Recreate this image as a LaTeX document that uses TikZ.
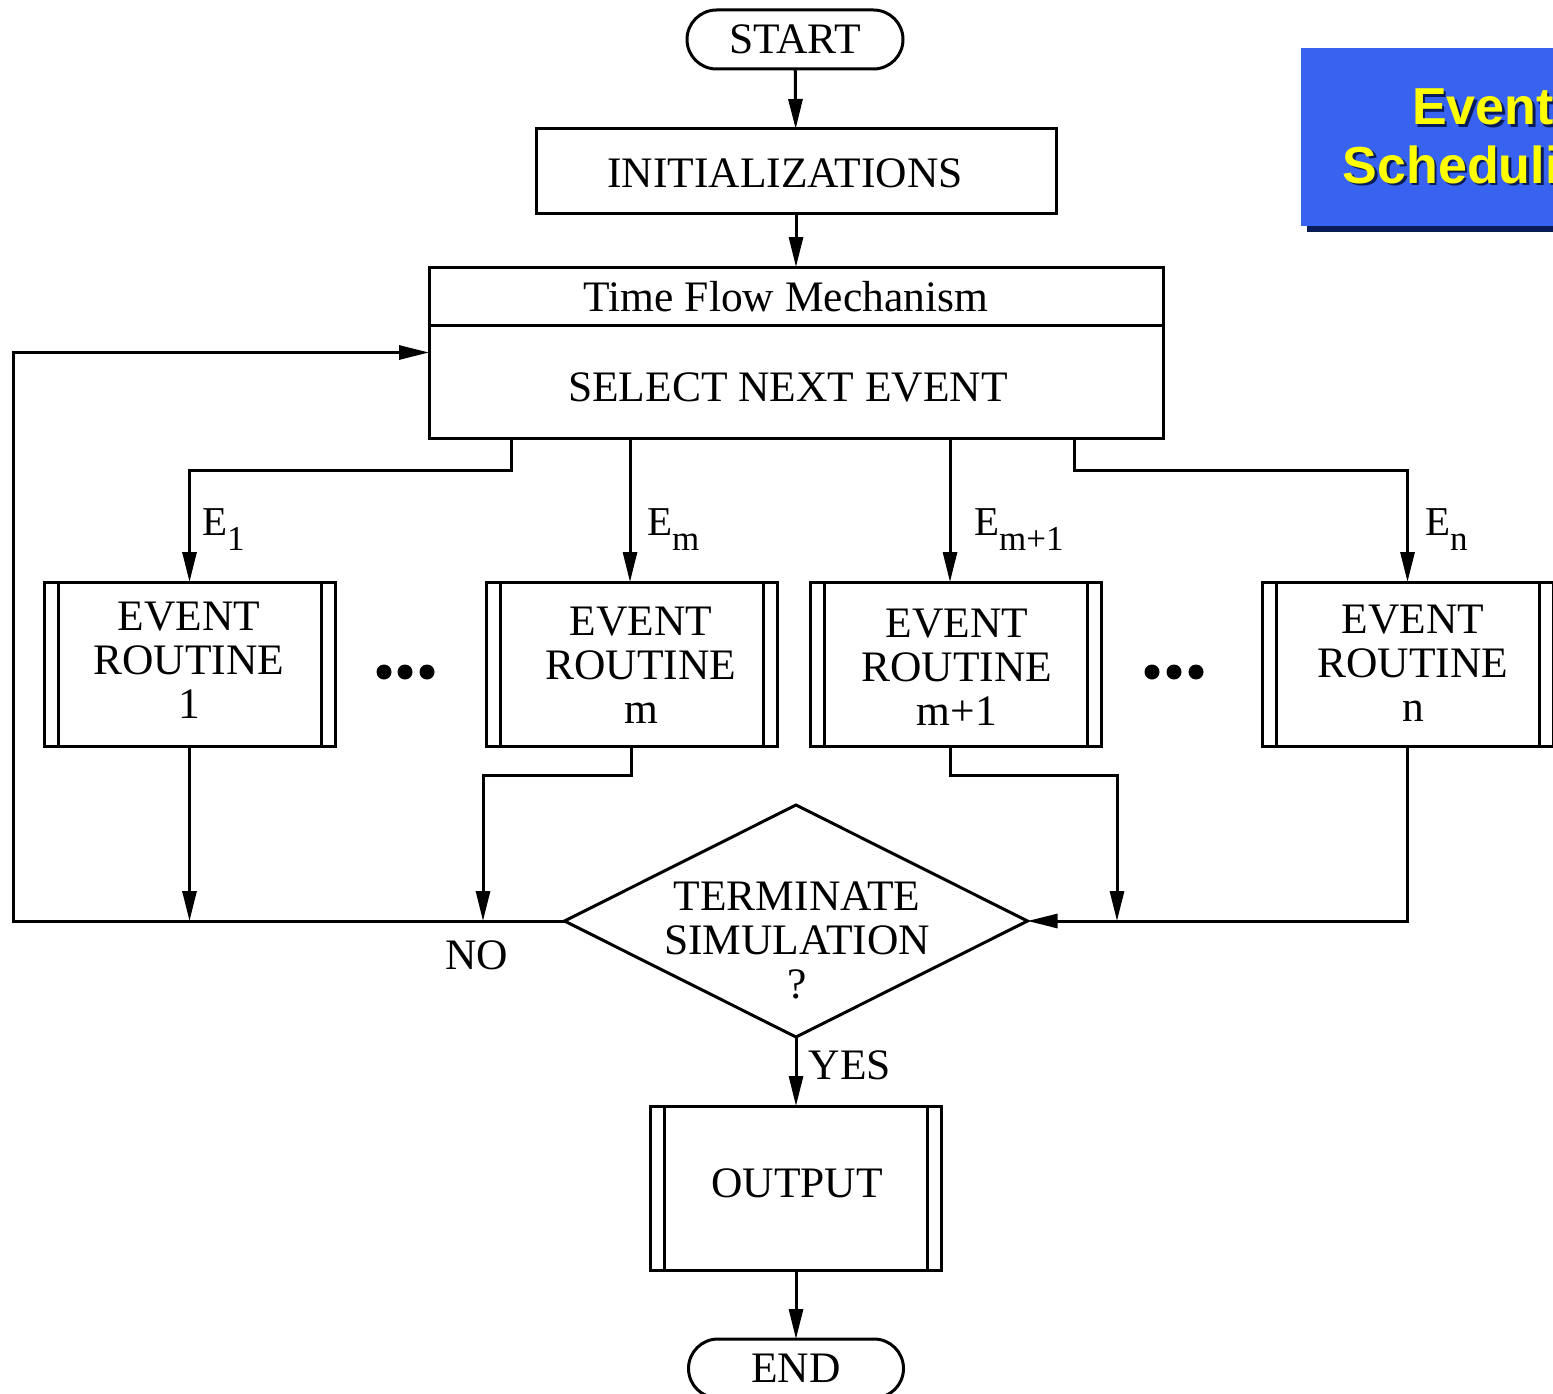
\documentclass[tikz,border=0pt]{standalone}
\usepackage{fontspec}
\setmainfont{Liberation Serif}
\newfontfamily\titlefont{Liberation Sans}
\usetikzlibrary{arrows.meta,shapes.misc,shapes.geometric}

\definecolor{bannerblue}{RGB}{56,99,240}
\definecolor{bannershadow}{RGB}{10,28,88}
\definecolor{banneryellow}{RGB}{255,255,0}

% event label with a lowered, smaller index
\newcommand{\evlabel}[1]{E\raisebox{-15pt}{\fontsize{35}{35}\selectfont #1}}

\begin{document}
\begin{tikzpicture}[x=1pt,y=-1pt,
  every node/.style={font=\fontsize{43.5}{44}\selectfont, inner sep=0pt, outer sep=0pt, align=center},
  flow/.style={line width=3pt},
  arr/.style={flow,-{Triangle[length=30pt,width=14pt]}},
  terminal/.style={draw, line width=3pt, rounded rectangle, minimum width=216pt, minimum height=59pt},
  plainbox/.style={draw, line width=3pt, rectangle},
  routine/.style={draw, line width=3pt, rectangle, minimum width=291pt, minimum height=164pt},
  decision/.style={draw, line width=3pt, diamond, minimum width=463pt, minimum height=232pt},
  evtag/.style={anchor=base west, font=\fontsize{41}{41}\selectfont},
  banner/.style={anchor=base, font=\titlefont\bfseries\fontsize{52}{57}\selectfont},
  dot/.style={fill=black}
]
\useasboundingbox (0,0) rectangle (1553,1394);

% title banner in the corner
\begin{scope}
  \clip (0,0) rectangle (1553,1394);
  \fill[bannershadow] (1307,54) rectangle (1600,232);
  \fill[bannerblue] (1301,48) rectangle (1600,226);
  \node[banner, text=bannershadow] (ev1s) at (1485.5,127.5) {Event};
  \node[banner, text=bannershadow] (ev2s) at (1485.5,185.5) {Scheduling};
  \node[banner, text=banneryellow] (ev1) at (1483,125) {Event};
  \node[banner, text=banneryellow] (ev2) at (1483,183) {Scheduling};
\end{scope}

% main flow
\node[terminal] (start) at (795,39.5) {START};
\node[plainbox, minimum width=520pt, minimum height=84pt] (init) at (796,171) {};
\node (inittext) at (785,173) {INITIALIZATIONS};
\node[plainbox, minimum width=734pt, minimum height=171pt] (tfm) at (796,352.5) {};
\draw[flow] (tfm.west |- 0,325) -- (tfm.east |- 0,325);
\node (tfmhead) at (786,297) {Time Flow Mechanism};
\node (tfmbody) at (788,387) {SELECT NEXT EVENT};

\draw[arr] (start) -- (init);
\draw[arr] (init) -- (tfm);

% event routines
\node[routine] (r1) at (189.5,664) {};
\node[routine] (rm) at (631.5,664) {};
\node[routine] (rm1) at (955.5,664) {};
\node[routine] (rn) at (1407.5,664) {};
\foreach \r in {r1,rm,rm1,rn}{
  \draw[flow] ([xshift=14pt]\r.north west) -- ([xshift=14pt]\r.south west);
  \draw[flow] ([xshift=-14pt]\r.north east) -- ([xshift=-14pt]\r.south east);
}
\node (r1t) at (189,660) {EVENT\\ROUTINE\\1};
\node (rmt) at (641,665) {EVENT\\ROUTINE\\m};
\node (rm1t) at (957,667) {EVENT\\ROUTINE\\m+1};
\node (rnt) at (1413,663) {EVENT\\ROUTINE\\n};

% omitted routines
\foreach \x in {384,405,427}{\fill[dot] (\x,672) circle (7.5);}
\foreach \x in {1152,1174,1196}{\fill[dot] (\x,672) circle (7.5);}

% branch points on the event selector
\coordinate (t1) at ([xshift=-285pt]tfm.south);
\coordinate (tm) at ([xshift=-166pt]tfm.south);
\coordinate (tm1) at ([xshift=154pt]tfm.south);
\coordinate (tn) at ([xshift=278pt]tfm.south);

\draw[arr] (t1) -- ++(0,32) -| (r1.north);
\draw[arr] (tm) -- (tm |- rm.north);
\draw[arr] (tm1) -- (tm1 |- rm1.north);
\draw[arr] (tn) -- ++(0,32) -| (rn.north);

\node[evtag] (e1) at (202,535) {\evlabel{1}};
\node[evtag] (em) at (647,535) {\evlabel{m}};
\node[evtag] (em1) at (974,535) {\evlabel{m+1}};
\node[evtag] (en) at (1425,535) {\evlabel{n}};

% termination test
\node[decision] (dec) at (796,921) {};
\node (dectext) at (797,940) {TERMINATE\\SIMULATION\\?};

\coordinate (jm) at (483,921);
\coordinate (jm1) at (1117,921);
\coordinate (lp) at (13,352.5);

\draw[arr] (r1.south) -- (r1.south |- dec.west);
\draw[arr] (rm.south) -- ++(0,29) -| (jm);
\draw[arr] (tm1 |- rm1.south) -- ++(0,29) -| (jm1);
\draw[arr] (rn.south) |- (dec.east);
\draw[arr] (dec.west) -| (lp) -- (tfm.west);

\node (no) at (477,955) {NO};
\node (yes) at (850,1065) {YES};

% output and end
\node[routine] (out) at (796,1188) {};
\draw[flow] ([xshift=14pt]out.north west) -- ([xshift=14pt]out.south west);
\draw[flow] ([xshift=-14pt]out.north east) -- ([xshift=-14pt]out.south east);
\node (outtext) at (797,1183) {OUTPUT};
\node[terminal, minimum width=215pt] (end) at (796,1368.5) {END};

\draw[arr] (dec.south) -- (out.north);
\draw[arr] (out.south) -- (end.north);
\end{tikzpicture}
\end{document}
